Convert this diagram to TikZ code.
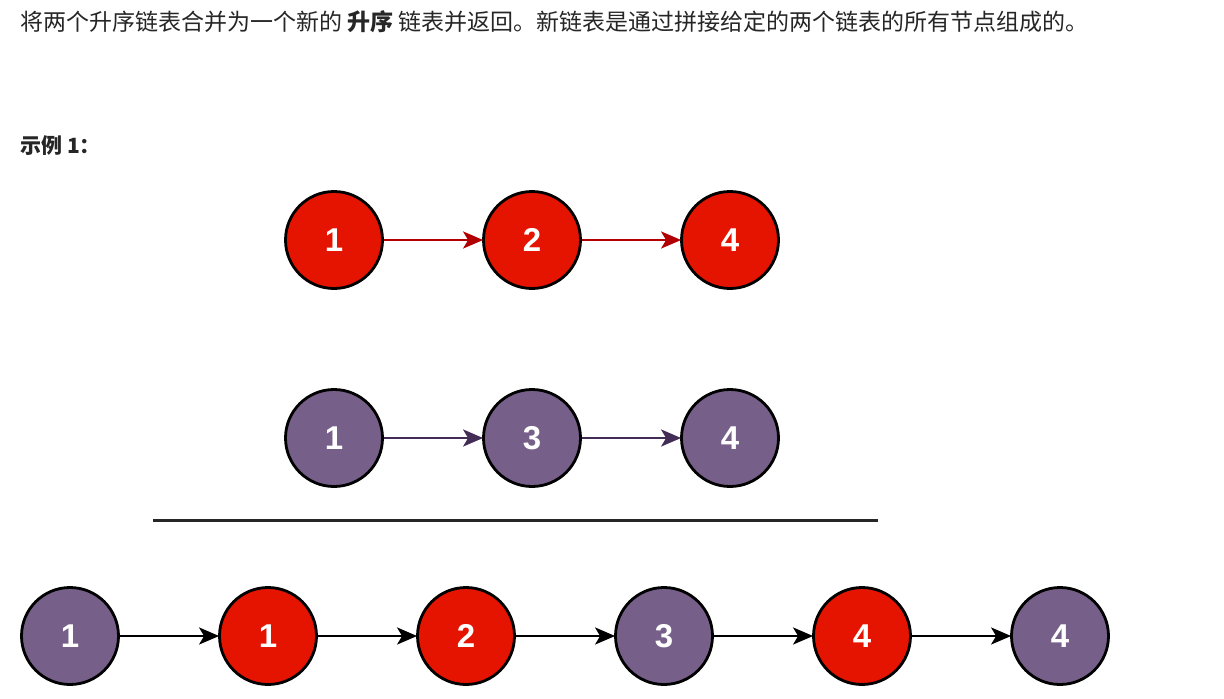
\documentclass[tikz,border=0pt]{standalone}
\usepackage{fontspec}
\setmainfont{Liberation Sans}
\newfontfamily\cjk{Noto Sans CJK SC}
\usetikzlibrary{arrows.meta}
\definecolor{txt}{HTML}{262626}
\definecolor{redfill}{HTML}{E51400}
\definecolor{purfill}{HTML}{76608A}
\definecolor{redline}{HTML}{B20000}
\definecolor{purline}{HTML}{432D57}
\tikzset{
  lnode/.style={circle, draw=black, line width=2.8pt, minimum size=97pt, inner sep=0pt,
    text=white, font=\fontsize{33}{33}\selectfont\bfseries},
  rednode/.style={lnode, fill=redfill},
  purnode/.style={lnode, fill=purfill},
  link/.style={line width=2.4pt, shorten >=-1pt, -{Stealth[length=20pt,width=17pt,inset=5pt]}},
  txtstyle/.style={anchor=west, inner sep=0pt, text=txt, font=\cjk\fontsize{23}{23}\selectfont},
}
\begin{document}
\begin{tikzpicture}[x=1pt,y=-1pt]
\useasboundingbox (0,0) rectangle (1224,699);
\fill[white] (0,0) rectangle (1224,699);
\node[txtstyle] (intro) at (20,22) {将两个升序链表合并为一个新的 {\bfseries 升序} 链表并返回。新链表是通过拼接给定的两个链表的所有节点组成的。};
\node[txtstyle, font=\cjk\fontsize{21}{21}\selectfont\bfseries] (ex) at (20,146) {示例 1：};
% list 1
\node[rednode] (a1) at (334,240) {1};
\node[rednode] (a2) at (532,240) {2};
\node[rednode] (a3) at (730,240) {4};
\draw[link, draw=redline, fill=redline] (a1) -- (a2);
\draw[link, draw=redline, fill=redline] (a2) -- (a3);
% list 2
\node[purnode] (b1) at (334,438) {1};
\node[purnode] (b2) at (532,438) {3};
\node[purnode] (b3) at (730,438) {4};
\draw[link, draw=purline, fill=purline] (b1) -- (b2);
\draw[link, draw=purline, fill=purline] (b2) -- (b3);
% separator
\coordinate (s1) at (153,520);
\coordinate (s2) at (878,520);
\draw[line width=3pt, draw=txt] (s1) -- (s2);
% merged
\node[purnode] (c1) at (70,636) {1};
\node[rednode] (c2) at (268,636) {1};
\node[rednode] (c3) at (466,636) {2};
\node[purnode] (c4) at (664,636) {3};
\node[rednode] (c5) at (862,636) {4};
\node[purnode] (c6) at (1060,636) {4};
\foreach \p/\q in {c1/c2,c2/c3,c3/c4,c4/c5,c5/c6}
  \draw[link, draw=black, fill=black] (\p) -- (\q);
\end{tikzpicture}
\end{document}
